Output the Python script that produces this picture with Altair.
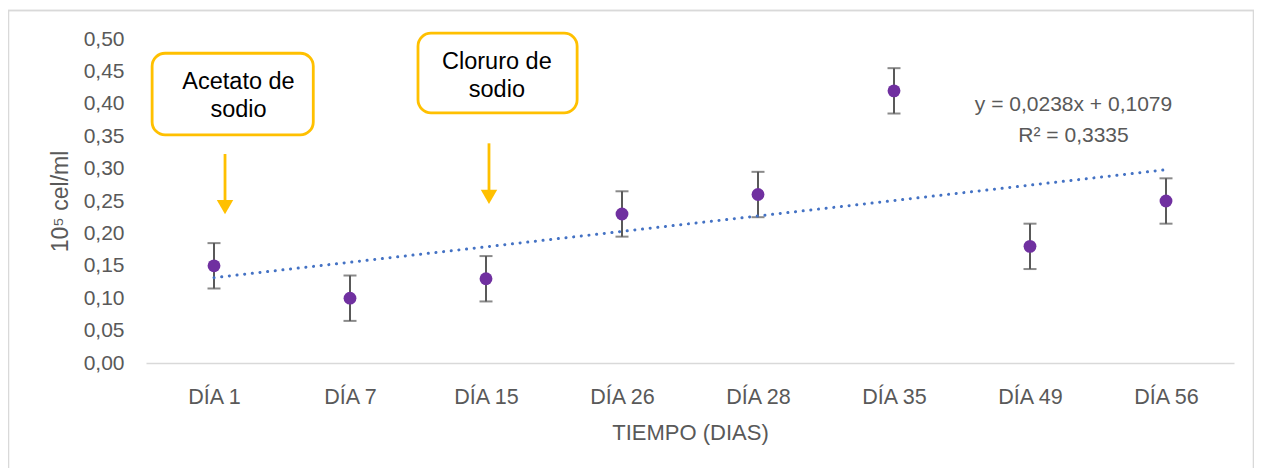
import altair as alt
import pandas as pd

# ---- data ----
days = ["DÍA 1", "DÍA 7", "DÍA 15", "DÍA 26", "DÍA 28", "DÍA 35", "DÍA 49", "DÍA 56"]
values = [0.15, 0.10, 0.13, 0.23, 0.26, 0.42, 0.18, 0.25]
errors = [0.035, 0.035, 0.035, 0.035, 0.035, 0.035, 0.035, 0.035]
y_ticks = [0.0, 0.05, 0.10, 0.15, 0.20, 0.25, 0.30, 0.35, 0.40, 0.45, 0.50]
trend_slope = 0.0238
trend_intercept = 0.1079
trend_label = ["y = 0,0238x + 0,1079", "R² = 0,3335"]

# annotations (data coordinates)
ann_lines = [["Acetato de", "sodio"], ["Cloruro de", "sodio"]]
ann_box_x = [(0.545, 1.73), (2.50, 3.67)]
ann_box_y = [(0.352, 0.478), (0.386, 0.509)]
ann_text_x = [1.18, 3.08]
ann_text_y = [0.4336, 0.4645]
ann_arrow_x = [1.081, 3.022]
ann_arrow_y = [(0.3225, 0.228), (0.339, 0.244)]
eq_x, eq_y = 7.32, 0.398

idx = list(range(1, len(days) + 1))
df = pd.DataFrame({"x": idx, "day": days, "v": values,
                   "lo": [v - e for v, e in zip(values, errors)],
                   "hi": [v + e for v, e in zip(values, errors)]})
trend_df = pd.DataFrame({"x": [idx[0], idx[-1]],
                         "v": [trend_intercept + trend_slope * idx[0],
                               trend_intercept + trend_slope * idx[-1]]})

boxes = pd.DataFrame({"x0": [b[0] for b in ann_box_x], "x1": [b[1] for b in ann_box_x],
                      "y0": [b[0] for b in ann_box_y], "y1": [b[1] for b in ann_box_y]})
box_text = pd.DataFrame({"x": ann_text_x, "y": ann_text_y, "t": ann_lines})
arrows = pd.DataFrame({"x": ann_arrow_x,
                       "y0": [a[0] for a in ann_arrow_y],
                       "y1": [a[1] + 0.016 for a in ann_arrow_y],
                       "yh": [a[1] + 0.0125 for a in ann_arrow_y]})
eq_df = pd.DataFrame({"x": [eq_x], "y": [eq_y], "t": [trend_label]})

FONT = "Liberation Sans"
GRAY = "#595959"
xs = alt.Scale(domain=[0.5, 8.5], nice=False, zero=False)
ys = alt.Scale(domain=[0, 0.5], nice=False)
label_arr = "[" + ",".join(f"'{d}'" for d in days) + "]"

x_axis = alt.Axis(values=idx, labelExpr=f"{label_arr}[datum.value-1]", title="TIEMPO (DIAS)",
                  grid=False, ticks=False, domainColor="#D9D9D9", domainWidth=1.3,
                  labelFont=FONT, labelFontSize=21.5, labelColor=GRAY, labelPadding=23,
                  labelOverlap=False,
                  titleFont=FONT, titleFontSize=22, titleColor=GRAY, titleFontWeight="normal",
                  titlePadding=15)
y_axis = alt.Axis(values=y_ticks,
                  labelExpr="replace(format(datum.value, '.2f'), '.', ',')",
                  title="10⁵ cel/ml", grid=False, ticks=False, domain=False,
                  labelFont=FONT, labelFontSize=21, labelColor=GRAY, labelPadding=22,
                  labelOverlap=False,
                  titleFont=FONT, titleFontSize=23, titleColor=GRAY, titleFontWeight="normal",
                  titlePadding=11)


def X(field):
    return alt.X(field, type="quantitative", scale=xs, axis=x_axis)


def Y(field):
    return alt.Y(field, type="quantitative", scale=ys, axis=y_axis)


frame = alt.Chart(trend_df).mark_rect(fill=None, stroke="#D9D9D9", strokeWidth=1.3).encode(
    x=alt.value(-137.5), x2=alt.value(1107.5), y=alt.value(-28.5), y2=alt.value(520))

base = alt.Chart(df)
errbar = base.mark_rule(color=GRAY, strokeWidth=2).encode(x=X("x"), y=Y("lo"), y2="hi:Q")
cap_lo = base.mark_tick(orient="horizontal", color=GRAY, size=13, thickness=2).encode(
    x=X("x"), y=Y("lo"))
cap_hi = base.mark_tick(orient="horizontal", color=GRAY, size=13, thickness=2).encode(
    x=X("x"), y=Y("hi"))
trend = alt.Chart(trend_df).mark_line(color="#4472C4", strokeWidth=3, strokeDash=[0.1, 7.6],
                                       strokeCap="round").encode(x=X("x"), y=Y("v"))
points = base.mark_circle(color="#7030A0", opacity=1, size=165).encode(x=X("x"), y=Y("v"))

rects = alt.Chart(boxes).mark_rect(fill="white", stroke="#FFC000", strokeWidth=2.8,
                                   cornerRadius=13).encode(
    x=X("x0"), x2="x1:Q", y=Y("y0"), y2="y1:Q")
rtext = alt.Chart(box_text).mark_text(font=FONT, fontSize=23.5, color="black", lineHeight=28,
                                      baseline="middle", align="center").encode(
    x=X("x"), y=Y("y"), text="t")
arr_line = alt.Chart(arrows).mark_rule(color="#FFC000", strokeWidth=2.8).encode(
    x=X("x"), y=Y("y0"), y2="y1:Q")
arr_head = alt.Chart(arrows).mark_point(shape="triangle-down", filled=True, fill="#FFC000",
                                        opacity=1, size=270, strokeWidth=0).encode(
    x=X("x"), y=Y("yh"))
eq = alt.Chart(eq_df).mark_text(font=FONT, fontSize=21, color=GRAY, lineHeight=31,
                                baseline="middle", align="center").encode(
    x=X("x"), y=Y("y"), text="t")

chart = alt.layer(frame, errbar, cap_lo, cap_hi, trend, points, rects, rtext, arr_line,
                  arr_head, eq
).properties(
    width=1088, height=324,
    background="white",
    autosize=alt.AutoSizeParams(type="none"),
    padding={"left": 138, "top": 31, "right": 20, "bottom": 105},
).configure_view(stroke=None, strokeWidth=0).configure_axis(labelOverlap=False)

chart.save("out.html", embed_options={"renderer": "svg", "actions": False})
